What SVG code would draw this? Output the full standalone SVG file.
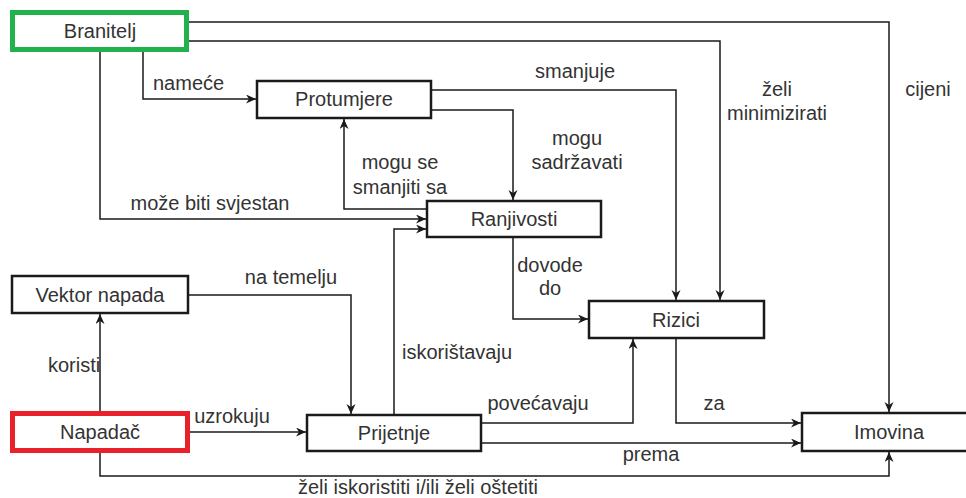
<svg xmlns="http://www.w3.org/2000/svg" width="966" height="498" viewBox="0 0 966 498">
  <style>
    .box { fill: #ffffff; stroke: #1a1a1a; stroke-width: 2.5; }
    .def { fill: #ffffff; stroke: #22b14c; stroke-width: 5; }
    .att { fill: #ffffff; stroke: #e8212b; stroke-width: 5; }
    .lbl { font-family: "Liberation Sans", Arial, sans-serif; font-size: 20px; fill: #333333; }
    .mid { text-anchor: middle; }
    .edge { fill: none; stroke: #1a1a1a; stroke-width: 1.5; marker-end: url(#arrow); }
  </style>
  <defs>
    <marker id="arrow" markerUnits="userSpaceOnUse" markerWidth="11" markerHeight="10" refX="10" refY="4.5" orient="auto">
      <path d="M0,0 L10,4.5 L0,9 L3,4.5 Z" fill="#1a1a1a"/>
    </marker>
  </defs>
  <rect width="966" height="498" fill="#ffffff"/>

  <!-- connectors -->
  <g id="connectors">
    <path class="edge" d="M189,22 H889 V412"/>
    <path class="edge" d="M189,41 H720 V300"/>
    <path class="edge" d="M143,52 V99 H256"/>
    <path class="edge" d="M100,52 V219 H426"/>
    <path class="edge" d="M432,90 H676 V300"/>
    <path class="edge" d="M432,110 H513 V200"/>
    <path class="edge" d="M426,209 H344 V119"/>
    <path class="edge" d="M513,238 V319 H588"/>
    <path class="edge" d="M189,295 H351 V414"/>
    <path class="edge" d="M394,414 V229 H426"/>
    <path class="edge" d="M100,411 V314"/>
    <path class="edge" d="M190,432 H306"/>
    <path class="edge" d="M100,453 V476 H889 V452"/>
    <path class="edge" d="M482,423 H633 V339"/>
    <path class="edge" d="M482,443 H801"/>
    <path class="edge" d="M676,339 V423 H801"/>

    <text class="lbl" x="153" y="90">nameće</text>
    <text class="lbl mid" x="575" y="78">smanjuje</text>
    <text class="lbl mid" x="777" y="96">želi</text>
    <text class="lbl mid" x="777" y="120">minimizirati</text>
    <text class="lbl mid" x="928" y="96">cijeni</text>
    <text class="lbl mid" x="577" y="145">mogu</text>
    <text class="lbl mid" x="577" y="169">sadržavati</text>
    <text class="lbl mid" x="400" y="169">mogu se</text>
    <text class="lbl mid" x="400" y="194">smanjiti sa</text>
    <text class="lbl mid" x="210" y="210">može biti svjestan</text>
    <text class="lbl mid" x="550" y="272">dovode</text>
    <text class="lbl mid" x="550" y="295">do</text>
    <text class="lbl mid" x="291" y="284">na temelju</text>
    <text class="lbl mid" x="457" y="359">iskorištavaju</text>
    <text class="lbl" x="48" y="372">koristi</text>
    <text class="lbl mid" x="538" y="410">povećavaju</text>
    <text class="lbl mid" x="714" y="410">za</text>
    <text class="lbl mid" x="232" y="423">uzrokuju</text>
    <text class="lbl mid" x="651" y="461">prema</text>
    <text class="lbl mid" x="418" y="494">želi iskoristiti i/ili želi oštetiti</text>
  </g>

  <!-- nodes -->
  <g id="branitelj">
    <rect class="def" x="12.5" y="12.5" width="174" height="37"/>
    <text class="lbl mid" x="100" y="38">Branitelj</text>
  </g>
  <g id="protumjere">
    <rect class="box" x="257" y="81" width="174" height="37"/>
    <text class="lbl mid" x="344" y="106">Protumjere</text>
  </g>
  <g id="ranjivosti">
    <rect class="box" x="427" y="201" width="174" height="36"/>
    <text class="lbl mid" x="514" y="226">Ranjivosti</text>
  </g>
  <g id="vektor-napada">
    <rect class="box" x="12" y="276" width="176" height="37"/>
    <text class="lbl mid" x="100" y="302">Vektor napada</text>
  </g>
  <g id="rizici">
    <rect class="box" x="589" y="301" width="175" height="37"/>
    <text class="lbl mid" x="676" y="327">Rizici</text>
  </g>
  <g id="napadac">
    <rect class="att" x="12.5" y="413.5" width="175" height="37"/>
    <text class="lbl mid" x="100" y="439">Napadač</text>
  </g>
  <g id="prijetnje">
    <rect class="box" x="307" y="415" width="174" height="36"/>
    <text class="lbl mid" x="394" y="440">Prijetnje</text>
  </g>
  <g id="imovina">
    <rect class="box" x="802" y="413" width="174" height="38"/>
    <text class="lbl mid" x="889" y="439">Imovina</text>
  </g>
</svg>
